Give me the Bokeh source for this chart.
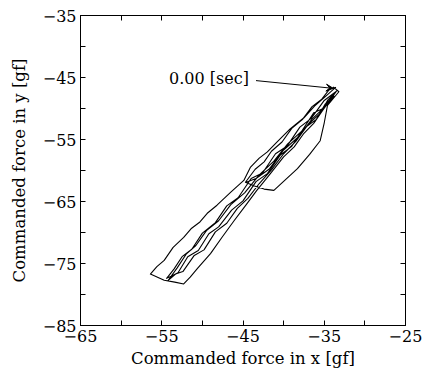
from bokeh.plotting import figure
from bokeh.models import Range1d, FixedTicker, LinearAxis, Label, Arrow, VeeHead
from bokeh.embed import file_html
from bokeh.resources import INLINE

# Trajectory of commanded force (x, y) in gf
traj_x = [-33.9, -33.2, -34.6, -35.0, -35.5, -36.8, -38.3, -39.8, -41.2, -42.4, -43.6, -44.7,
          -43.5, -42.4, -41.5, -40.2, -39.0, -37.7, -36.5, -35.3, -34.3, -33.6,
          -34.8, -36.2, -37.5, -39.2, -40.8, -42.0, -43.0, -44.1, -44.9, -46.5, -48.2, -49.4,
          -50.3, -51.4, -52.3, -53.6, -54.7, -55.6, -56.4, -54.7, -53.4, -52.3,
          -51.5, -50.6, -49.0, -47.6, -46.1, -44.6, -43.3, -41.8, -40.0, -38.7, -37.5, -36.3,
          -35.2, -33.5,
          -35.0, -36.6, -38.0, -39.6, -41.0, -42.6, -44.0, -45.6, -47.0, -48.4, -50.0, -51.3,
          -52.5, -53.5, -54.4,
          -53.0, -51.8, -50.5, -49.2, -48.0, -46.4, -45.0, -43.4, -42.0, -40.4, -39.0, -37.6,
          -36.0, -34.9, -33.8,
          -35.0, -36.3, -37.8, -39.5, -41.2, -43.0, -44.8, -46.5, -48.0, -49.5, -50.8, -52.0,
          -53.1, -54.2,
          -53.3, -52.4, -51.0, -49.8, -48.4, -47.0, -45.7, -44.4, -43.0, -41.5, -40.0, -38.5,
          -37.0, -35.5, -34.6, -33.8,
          -34.9, -36.5, -38.2, -40.0, -41.8, -43.4, -44.6]
traj_y = [-46.5, -47.3, -49.5, -52.3, -55.2, -57.4, -59.7, -61.5, -63.2, -63.0, -62.5, -61.9,
          -59.8, -58.6, -56.9, -55.4, -53.2, -51.8, -49.7, -48.5, -46.8, -46.6,
          -48.0, -49.6, -51.5, -53.3, -55.4, -57.0, -58.0, -59.5, -61.6, -63.5, -65.6, -66.9,
          -68.3, -69.4, -70.8, -72.4, -74.5, -75.5, -76.7, -77.7, -78.0, -78.3,
          -77.2, -75.8, -73.4, -70.8, -68.1, -65.5, -63.2, -60.8, -57.8, -56.2, -54.0, -52.4,
          -50.3, -47.2,
          -48.7, -51.6, -53.0, -56.1, -57.3, -60.4, -61.3, -64.4, -65.7, -68.4, -70.1, -72.7,
          -73.9, -75.9, -77.4,
          -76.5, -73.9, -72.9, -70.2, -69.1, -66.4, -64.9, -61.8, -60.5, -57.5, -56.1, -53.3,
          -51.8, -49.3, -48.0,
          -49.9, -50.7, -53.7, -55.7, -58.5, -60.7, -63.6, -65.5, -68.1, -69.7, -72.1, -73.5,
          -75.7, -77.7,
          -76.7, -76.3, -73.7, -72.8, -69.9, -68.5, -66.1, -64.5, -62.1, -59.9, -57.3, -55.3,
          -52.6, -50.8, -48.7, -47.6,
          -49.7, -51.7, -54.6, -56.7, -59.8, -61.3, -61.9]

x_ticks = [-65, -55, -45, -35, -25]
x_minor = [-60, -50, -40, -30]
x_tick_labels = ["\u221265", "\u221255", "\u221245", "\u221235", "\u221225"]
y_ticks = [-85, -75, -65, -55, -45, -35]
y_minor = [-80, -70, -60, -50, -40]
y_tick_labels = ["\u221285", "\u221275", "\u221265", "\u221255", "\u221245", "\u221235"]

FONT = "DejaVu Serif"

p = figure(width=424, height=377, output_backend="svg", toolbar_location=None,
           x_range=Range1d(-65, -25), y_range=Range1d(-85, -35),
           min_border_left=80, min_border_right=19, min_border_top=15, min_border_bottom=52)
p.grid.visible = False
p.outline_line_color = "black"
p.outline_line_width = 1
p.background_fill_color = "white"
p.border_fill_color = "white"

xt = FixedTicker(ticks=x_ticks, minor_ticks=x_minor)
yt = FixedTicker(ticks=y_ticks, minor_ticks=y_minor)

def style(ax, show_labels):
    ax.major_tick_in = 5
    ax.major_tick_out = 0
    ax.minor_tick_in = 5
    ax.minor_tick_out = 0
    ax.axis_line_color = "black"
    ax.major_tick_line_color = "black"
    ax.minor_tick_line_color = "black"
    ax.major_label_text_font = FONT
    ax.major_label_text_font_size = "16px"
    ax.major_label_text_color = "black"
    ax.major_label_standoff = 4
    ax.axis_label_text_font = FONT
    ax.axis_label_text_font_size = "16.5px"
    ax.axis_label_text_font_style = "normal"
    ax.axis_label_text_color = "black"
    if not show_labels:
        ax.major_label_text_alpha = 0
        ax.major_label_text_font_size = "1px"
        ax.major_label_standoff = 0

p.xaxis.ticker = xt
p.yaxis.ticker = yt
p.xaxis.major_label_overrides = dict(zip(x_ticks, x_tick_labels))
p.yaxis.major_label_overrides = dict(zip(y_ticks, y_tick_labels))
style(p.xaxis[0], True)
style(p.yaxis[0], True)
p.xaxis.axis_label = "Commanded force in x [gf]"
p.yaxis.axis_label = "Commanded force in y [gf]"
p.xaxis.axis_label_standoff = 4
p.yaxis.axis_label_standoff = 11

top = LinearAxis(ticker=xt)
right = LinearAxis(ticker=yt)
style(top, False)
style(right, False)
p.add_layout(top, "above")
p.add_layout(right, "right")

p.line(traj_x, traj_y, line_color="black", line_width=1.1, line_join="round")

# annotation
p.add_layout(Label(x=-54.1, y=-45.2, text="0.00 [sec]", text_font=FONT, text_font_size="16px",
                   text_baseline="middle", text_color="black"))
p.add_layout(Arrow(x_start=-43.4, y_start=-45.5, x_end=-33.9, y_end=-46.75,
                   line_color="black", line_width=1,
                   end=VeeHead(size=7, fill_color="black", line_color="black")))

open("out.html", "w").write(file_html(p, INLINE))
